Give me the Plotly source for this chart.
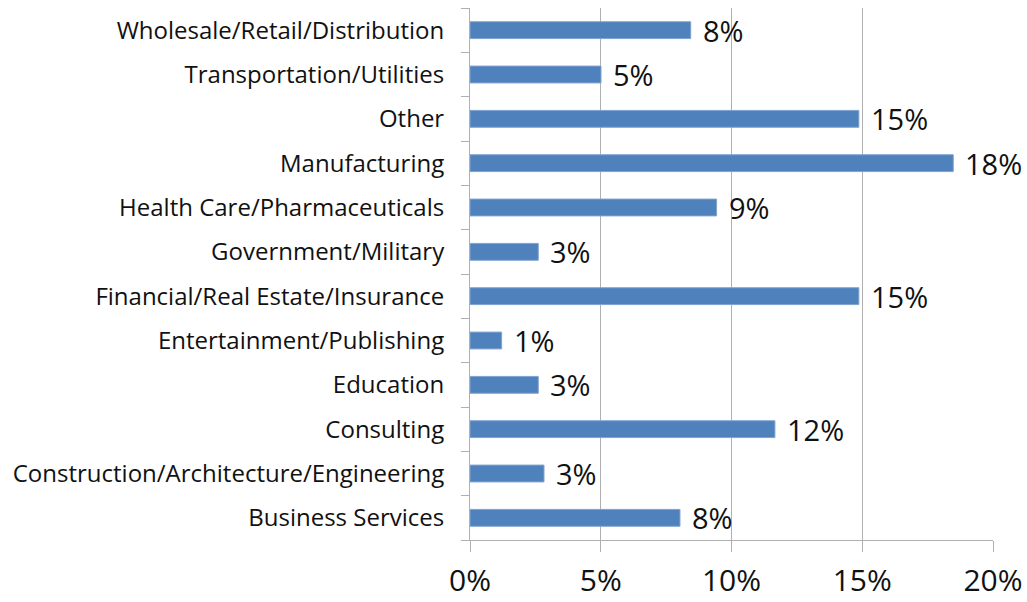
import plotly.graph_objects as go

# categories listed bottom to top, as plotly draws a horizontal bar axis
industries = [
    "Business Services",
    "Construction/Architecture/Engineering",
    "Consulting",
    "Education",
    "Entertainment/Publishing",
    "Financial/Real Estate/Insurance",
    "Government/Military",
    "Health Care/Pharmaceuticals",
    "Manufacturing",
    "Other",
    "Transportation/Utilities",
    "Wholesale/Retail/Distribution",
]
share_pct = [8.03, 2.83, 11.66, 2.61, 1.21, 14.87, 2.61, 9.43, 18.48, 14.87, 5.01, 8.44]

x_ticks = [0, 5, 10, 15, 20]
x_tick_labels = ["0%", "5%", "10%", "15%", "20%"]

BAR = "#4F81BD"
GRID = "#B0B0B0"
FONT = "Open Sans"

fig = go.Figure(go.Bar(
    x=share_pct, y=industries, orientation="h",
    width=0.38,
    marker=dict(color=BAR, line=dict(color="#7FA3D0", width=1)),
    hoverinfo="x+y",
))

# value labels sit a little to the right of each bar end
for name, v in zip(industries, share_pct):
    fig.add_annotation(
        x=v, y=name, text=f"{v:.0f}%",
        xanchor="left", yanchor="middle", xshift=10, showarrow=False,
        font=dict(family=FONT, size=29, color="#111111"),
    )

fig.update_layout(
    width=1027, height=602,
    paper_bgcolor="white", plot_bgcolor="white",
    margin=dict(l=470, r=34, t=8, b=62),
    showlegend=False,
    font=dict(family=FONT, color="#111111"),
    xaxis=dict(
        range=[0, 20], tickvals=x_ticks, ticktext=x_tick_labels,
        showgrid=True, gridcolor=GRID, gridwidth=1,
        showline=True, linecolor=GRID, linewidth=1,
        ticks="outside", ticklen=11, tickcolor=GRID,
        tickfont=dict(family=FONT, size=30, color="#111111"),
        ticklabelstandoff=3,
        zeroline=False, fixedrange=True, automargin=False,
    ),
    yaxis=dict(
        categoryorder="array", categoryarray=industries,
        showline=True, linecolor=GRID, linewidth=1,
        ticks="outside", ticklen=8, tickcolor=GRID, tickson="boundaries",
        tickfont=dict(family=FONT, size=24, color="#111111"),
        ticklabelstandoff=20,
        showgrid=False, zeroline=False, fixedrange=True, automargin=False,
    ),
)

# drop the browser's default body margin so the figure fills the window
fig.write_html(
    "out.html",
    config={"displayModeBar": False},
    post_script="document.body.style.margin='0';document.body.style.overflow='hidden';",
)
